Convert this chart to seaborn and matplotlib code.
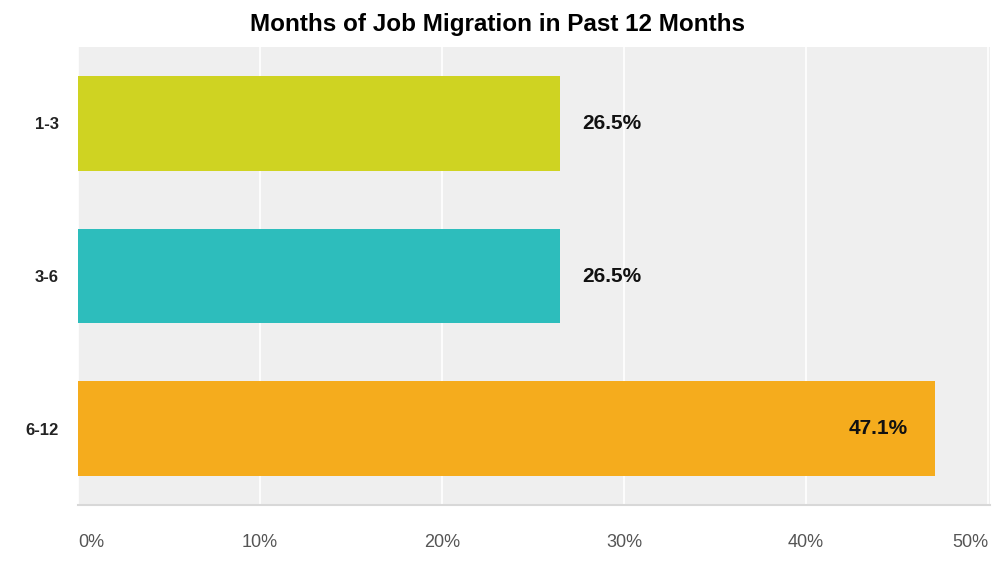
import matplotlib
matplotlib.use("Agg")
import matplotlib.pyplot as plt
import seaborn as sns
import pandas as pd

## months ranges and share of respondents
categories = ["1-3", "3-6", "6-12"]
shares = [26.5, 26.5, 47.1]
bar_colors = ["#cfd322", "#2dbdbc", "#f5ac1d"]
xticks = [0, 10, 20, 30, 40, 50]

df = pd.DataFrame({"months": categories, "share": shares})

sns.set_theme(style="white")
plt.rcParams['font.family'] = ['Liberation Sans', 'DejaVu Sans']

fig = plt.figure(figsize=(9.95, 5.88), dpi=100)
ax = fig.add_axes([78/995, 1-505/588, 912/995, 458/588])
ax.set_facecolor("#efefef")

sns.barplot(data=df, x="share", y="months", hue="months", palette=bar_colors,
            order=categories, width=0.62, legend=False, ax=ax, zorder=3,
            saturation=1, linewidth=0, edgecolor="none")

ax.set_xlim(0, 50.1)
ax.set_ylim(2.5, -0.5)
ax.set_xticks(xticks)
ax.set_xticklabels(["%d%%" % t for t in xticks], color="#555555", fontsize=13)
ax.get_xticklabels()[0].set_ha("left")
ax.get_xticklabels()[-1].set_ha("right")
ax.tick_params(axis="x", length=0, pad=21)
ax.tick_params(axis="y", length=0, pad=14)
for t in ax.get_yticklabels():
    t.set_fontweight("bold")
    t.set_fontsize(12)
    t.set_color("#222222")
ax.grid(axis="x", color="white", linewidth=1.2, zorder=1)
ax.set_axisbelow(True)
ax.set_xlabel("")
ax.set_ylabel("")
for s in ["top", "left", "right"]:
    ax.spines[s].set_visible(False)
ax.spines["bottom"].set_color("#d8d8d8")
ax.spines["bottom"].set_linewidth(1.5)

for i, v in enumerate(shares):
    if v > 40:
        ax.text(v - 1.5, i, "%.1f%%" % v, ha="right", va="center",
                fontsize=15, fontweight="bold", color="#111111", zorder=5)
    else:
        ax.text(v + 1.2, i, "%.1f%%" % v, ha="left", va="center",
                fontsize=15, fontweight="bold", color="#111111", zorder=5)

fig.text(0.5, 1-24/588, "Months of Job Migration in Past 12 Months", ha="center",
         va="center", fontsize=17.5, fontweight="bold", color="black")

fig.savefig("out.png", dpi=100)
